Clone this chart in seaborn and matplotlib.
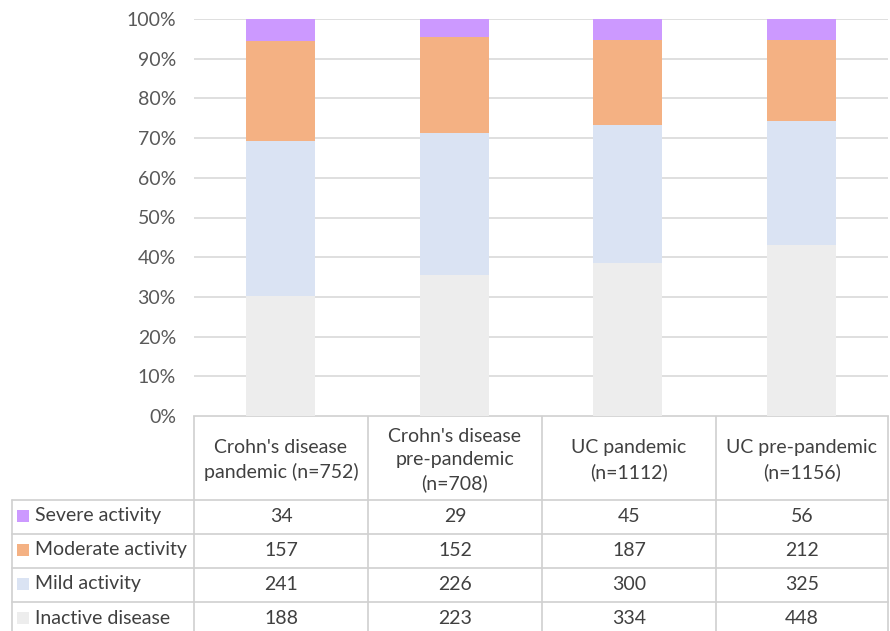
import numpy as np
import pandas as pd
import matplotlib.pyplot as plt
import seaborn as sns
from matplotlib.ticker import PercentFormatter

groups = ["Crohn's disease\npandemic (n=752)",
          "Crohn's disease\npre-pandemic\n(n=708)",
          "UC pandemic\n(n=1112)",
          "UC pre-pandemic\n(n=1156)"]
levels = ['Severe activity', 'Moderate activity', 'Mild activity', 'Inactive disease']
severe = [34, 29, 45, 56]
moderate = [157, 152, 187, 212]
mild = [241, 226, 300, 325]
inactive = [188, 223, 334, 448]
colors = ['#CC99FF', '#F4B183', '#DAE3F3', '#EDEDED']

counts = pd.DataFrame([severe, moderate, mild, inactive], index=levels, columns=groups)
share = counts / counts.sum() * 100
# cumulative from the bottom (inactive) upwards
cum = share.iloc[::-1].cumsum().iloc[::-1]

sns.set_theme(style="whitegrid")
plt.rcParams['font.family'] = ['Lato', 'DejaVu Sans']

W, H = 890, 631
fs = 14
fig = plt.figure(figsize=(W / 100, H / 100), dpi=100)
ax = fig.add_axes([194 / W, 1 - 416 / H, 694 / W, 397 / H])

# draw the tallest layer first so each lower layer sits on top
for lev, c in zip(levels, colors):
    d = pd.DataFrame({'group': groups, 'pct': cum.loc[lev].values})
    sns.barplot(data=d, x='group', y='pct', color=c, width=0.4,
                linewidth=0, saturation=1, ax=ax, zorder=2)

ax.set_xlim(-0.5, 3.5)
ax.set_ylim(0, 100)
ax.set_yticks(np.arange(0, 101, 10))
ax.yaxis.set_major_formatter(PercentFormatter(decimals=0))
ax.set_xticks([])
ax.set_xlabel('')
ax.set_ylabel('')
ax.grid(axis='y', color='#D9D9D9', lw=1.2, zorder=0)
ax.grid(axis='x', visible=False)
for s in ax.spines.values():
    s.set_visible(False)
ax.tick_params(axis='y', length=0, pad=13, labelsize=fs, labelcolor='#595959')
ax.set_facecolor('none')

# data table below the bars, drawn in pixel coordinates
tab = fig.add_axes([0, 0, 1, 1], zorder=-1)
tab.set_xlim(0, W)
tab.set_ylim(H, 0)
tab.axis('off')
line_c = '#D0D0D0'
col_x = [194, 368, 542, 716, 888]
row_y = [416, 500, 534, 568, 602, 636]

for x in col_x:
    tab.plot([x, x], [416, H], color=line_c, lw=1.2)
tab.plot([12, 12], [500, H], color=line_c, lw=1.2)
tab.plot([194, 888], [416, 416], color=line_c, lw=1.2)
for y in row_y[1:-1]:
    tab.plot([12, 888], [y, y], color=line_c, lw=1.2)

txt = '#404040'
for i, g in enumerate(groups):
    cx = (col_x[i] + col_x[i + 1]) / 2
    tab.text(cx, (row_y[0] + row_y[1]) / 2 + 2, g, ha='center', va='center',
             fontsize=fs, color=txt, linespacing=1.45)
for r, (lev, c) in enumerate(zip(levels, colors)):
    cy = (row_y[r + 1] + row_y[r + 2]) / 2 - 1
    tab.scatter([23], [cy], marker='s', s=75, color=c, linewidths=0)
    tab.text(35, cy, lev, ha='left', va='center', fontsize=fs, color=txt)
    for i in range(len(groups)):
        cx = (col_x[i] + col_x[i + 1]) / 2
        tab.text(cx, cy, str(counts.loc[lev].iloc[i]), ha='center', va='center',
                 fontsize=fs, color=txt)

fig.savefig('out.png', dpi=100, facecolor='white')
